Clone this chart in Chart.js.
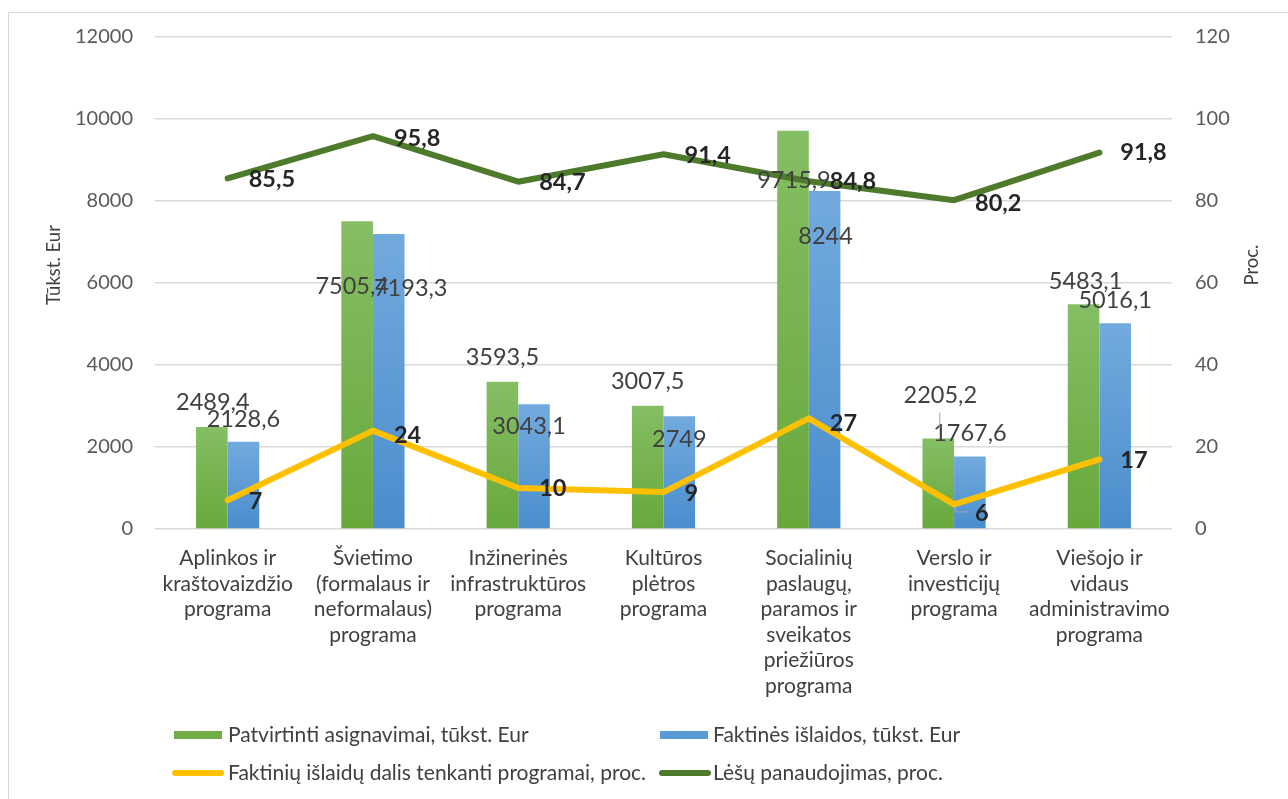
<!DOCTYPE html>
<html>
<head>
<meta charset="utf-8">
<script src="https://cdn.jsdelivr.net/npm/chart.js@4.4.1/dist/chart.umd.min.js"></script>
<style>
html, body { margin: 0; padding: 0; background: #fff; }
</style>
</head>
<body>
<canvas id="myChart" width="1288" height="799"></canvas>
<script>
// data
var categories = [
  ["Aplinkos ir", "kraštovaizdžio", "programa"],
  ["Švietimo", "(formalaus ir", "neformalaus)", "programa"],
  ["Inžinerinės", "infrastruktūros", "programa"],
  ["Kultūros", "plėtros", "programa"],
  ["Socialinių", "paslaugų,", "paramos ir", "sveikatos", "priežiūros", "programa"],
  ["Verslo ir", "investicijų", "programa"],
  ["Viešojo ir", "vidaus", "administravimo", "programa"]
];
var planned = [2489.4, 7505.4, 3593.5, 3007.5, 9715.9, 2205.2, 5483.1];
var actual = [2128.6, 7193.3, 3043.1, 2749, 8244, 1767.6, 5016.1];
var share = [7, 24, 10, 9, 27, 6, 17];
var usage = [85.5, 95.8, 84.7, 91.4, 84.8, 80.2, 91.8];
var seriesNames = [
  "Patvirtinti asignavimai, tūkst. Eur",
  "Faktinės išlaidos, tūkst. Eur",
  "Faktinių išlaidų dalis tenkanti programai, proc.",
  "Lėšų panaudojimas, proc."
];

// label nudges (px) so labels sit where Excel put them
var barNudge = [
  [[1,-13],[-5,77],[0,-12],[0,-12],[1,62],[2,-31],[2,-11]],
  [[0,-10],[22,66],[-5,34],[0,35],[1,57],[0,-11],[0,-11]]
];
var lineNudge = {2: [1,5,0,1,5,9,1], 3: [1,2,1,1,0,3,0]};

var FONT = "Lato, 'Open Sans', sans-serif";

function fmt(v){ return String(v).replace('.', ','); }

function barGrad(top, bottom){
  return function(c){
    var ch = c.chart, y = ch.scales && ch.scales.y;
    if (!y || c.type !== 'data') return bottom;
    var y0 = y.getPixelForValue(c.raw), y1 = y.getPixelForValue(0);
    if (!isFinite(y0) || !isFinite(y1) || y0 === y1) return bottom;
    var g = ch.ctx.createLinearGradient(0, y0, 0, y1);
    g.addColorStop(0, top);
    g.addColorStop(1, bottom);
    return g;
  };
}

var extras = {
  id: 'extras',
  beforeDraw: function(chart){
    var ctx = chart.ctx;
    ctx.save();
    ctx.strokeStyle = '#d9d9d9';
    ctx.lineWidth = 1;
    ctx.strokeRect(8.5, 12.5, 1300, 800);
    ctx.restore();
  },
  afterDatasetsDraw: function(chart){
    var ctx = chart.ctx;
    ctx.save();
    ctx.textBaseline = 'middle';
    chart.data.datasets.forEach(function(ds, di){
      var meta = chart.getDatasetMeta(di);
      meta.data.forEach(function(el, i){
        var txt = fmt(ds.data[i]);
        if (ds.type === 'line') {
          ctx.font = 'bold 23.5px ' + FONT;
          ctx.fillStyle = '#262626';
          ctx.textAlign = 'left';
          ctx.fillText(txt, el.x + 21, el.y + lineNudge[di][i]);
        } else {
          var n = barNudge[di][i];
          ctx.font = '23.5px ' + FONT;
          ctx.fillStyle = '#404040';
          ctx.textAlign = 'center';
          ctx.fillText(txt, el.x + n[0], el.y - 12 + n[1]);
        }
      });
    });
    // leader lines
    ctx.strokeStyle = '#a6a6a6';
    ctx.lineWidth = 1;
    var g6 = chart.getDatasetMeta(0).data[5];
    ctx.beginPath();
    ctx.moveTo(g6.x + 1.5, g6.y - 26);
    ctx.lineTo(g6.x + 1.5, g6.y - 11);
    ctx.stroke();
    var p6 = chart.getDatasetMeta(2).data[5];
    ctx.beginPath();
    ctx.moveTo(p6.x + 1.5, p6.y + 2);
    ctx.lineTo(p6.x + 1.5, p6.y + 7.5);
    ctx.lineTo(p6.x + 14, p6.y + 7.5);
    ctx.stroke();
    ctx.restore();
  },
  afterDraw: function(chart){
    var ctx = chart.ctx;
    ctx.save();
    // axis titles
    ctx.fillStyle = '#404040';
    ctx.font = '18.5px ' + FONT;
    ctx.textAlign = 'center';
    ctx.textBaseline = 'middle';
    ctx.translate(54, 265);
    ctx.rotate(-Math.PI / 2);
    ctx.fillText('Tūkst. Eur', 0, 0);
    ctx.setTransform(1, 0, 0, 1, 0, 0);
    ctx.translate(1252, 265);
    ctx.rotate(-Math.PI / 2);
    ctx.fillText('Proc.', 0, 0);
    ctx.setTransform(1, 0, 0, 1, 0, 0);

    // legend
    ctx.font = '21px ' + FONT;
    ctx.textAlign = 'left';
    ctx.fillStyle = '#70ad47';
    ctx.fillRect(174, 731, 48, 8);
    ctx.fillStyle = '#5b9bd5';
    ctx.fillRect(660, 731, 48, 8);
    ctx.lineCap = 'round';
    ctx.lineWidth = 6;
    ctx.strokeStyle = '#ffc000';
    ctx.beginPath(); ctx.moveTo(175, 773); ctx.lineTo(221, 773); ctx.stroke();
    ctx.strokeStyle = '#4e7a2c';
    ctx.beginPath(); ctx.moveTo(662, 773); ctx.lineTo(708, 773); ctx.stroke();
    ctx.fillStyle = '#404040';
    ctx.fillText(seriesNames[0], 228, 735);
    ctx.fillText(seriesNames[1], 713, 735);
    ctx.fillText(seriesNames[2], 228, 773);
    ctx.fillText(seriesNames[3], 713, 773);
    ctx.restore();
  }
};

function plainTick(v){ return String(v); }

var ctx = document.getElementById('myChart').getContext('2d');
var myChart = new Chart(ctx, {
  data: {
    labels: categories,
    datasets: [
      {
        type: 'bar', label: seriesNames[0], data: planned, yAxisID: 'y', order: 2,
        backgroundColor: barGrad('#85be64', '#68a83b'),
        categoryPercentage: 0.435, barPercentage: 1
      },
      {
        type: 'bar', label: seriesNames[1], data: actual, yAxisID: 'y', order: 2,
        backgroundColor: barGrad('#72aade', '#4a8dcd'),
        categoryPercentage: 0.435, barPercentage: 1
      },
      {
        type: 'line', label: seriesNames[2], data: share, yAxisID: 'y1', order: 1,
        borderColor: '#ffc000', borderWidth: 6, pointRadius: 0, tension: 0,
        borderJoinStyle: 'round', borderCapStyle: 'round'
      },
      {
        type: 'line', label: seriesNames[3], data: usage, yAxisID: 'y1', order: 0,
        borderColor: '#4e7a2c', borderWidth: 6, pointRadius: 0, tension: 0,
        borderJoinStyle: 'round', borderCapStyle: 'round'
      }
    ]
  },
  options: {
    responsive: false,
    animation: false,
    events: [],
    layout: { padding: { top: 37, bottom: 100, left: 0, right: 0 } },
    plugins: { legend: { display: false }, tooltip: { enabled: false } },
    scales: {
      x: {
        grid: { display: false },
        border: { display: false },
        ticks: {
          autoSkip: false, maxRotation: 0, padding: 9,
          color: '#404040',
          font: { family: FONT, size: 21, lineHeight: 1.21 }
        },
        afterFit: function(s){ s.height = 170; }
      },
      y: {
        position: 'left', min: 0, max: 12000,
        grid: { color: '#d9d9d9', lineWidth: 1.5, drawTicks: false },
        border: { display: false },
        ticks: { stepSize: 2000, padding: 22, color: '#595959', font: { family: FONT, size: 20 }, callback: plainTick },
        afterFit: function(s){ s.width = 155; }
      },
      y1: {
        position: 'right', min: 0, max: 120,
        grid: { display: false, drawTicks: false },
        border: { display: false },
        ticks: { stepSize: 20, padding: 23, color: '#595959', font: { family: FONT, size: 20 }, callback: plainTick },
        afterFit: function(s){ s.width = 116; }
      }
    }
  },
  plugins: [extras]
});
</script>
</body>
</html>
